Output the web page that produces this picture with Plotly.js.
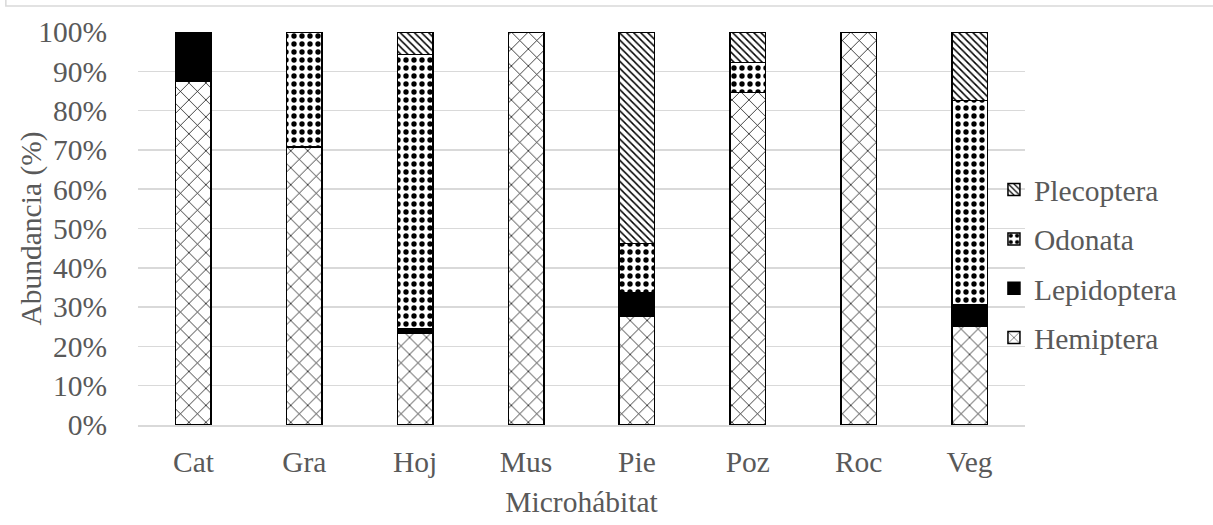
<!DOCTYPE html>
<html>
<head>
<meta charset="utf-8">
<script src="https://cdn.plot.ly/plotly-3.0.1.min.js"></script>
<style>
html,body{margin:0;padding:0;background:#fff;}
#chart{width:1213px;height:525px;}
</style>
</head>
<body>
<div id="chart"></div>
<script>
const categories = ["Cat", "Gra", "Hoj", "Mus", "Pie", "Poz", "Roc", "Veg"];
const hemiptera   = [87.5, 70.8, 23.3, 100, 27.7, 84.6, 100, 25.2];
const lepidoptera = [12.5, 0,    1.3,  0,   6.0,  0,    0,   5.3];
const odonata     = [0,    29.2, 69.7, 0,   12.5, 7.7,  0,   52.1];
const plecoptera  = [0,    0,    5.7,  0,   53.8, 7.7,  0,   17.4];
const tickVals = [0, 10, 20, 30, 40, 50, 60, 70, 80, 90, 100];
const tickText = ["0%", "10%", "20%", "30%", "40%", "50%", "60%", "70%", "80%", "90%", "100%"];

const font = {family: "Liberation Serif, Times New Roman, serif", size: 29.5, color: "#595959"};
const outline = {color: "#000", width: 1.5};

function trace(name, vals, rank, pattern, color) {
  return {
    type: "bar", name: name, x: categories, y: vals,
    legendgroup: name, legendrank: rank,
    marker: {color: color || "#fff", line: outline, pattern: pattern},
    hoverinfo: "x+y+name"
  };
}

const data = [
  trace("Hemiptera", hemiptera, 4, {shape: "x", fgcolor: "#000", bgcolor: "#fff", fgopacity: 1, size: 12, solidity: 0.12, fillmode: "overlay"}),
  trace("Lepidoptera", lepidoptera, 3, {shape: ""}, "#000"),
  trace("Odonata", odonata, 2, {shape: ".", fgcolor: "#000", bgcolor: "#fff", fgopacity: 1, size: 8, solidity: 0.35, fillmode: "overlay"}),
  trace("Plecoptera", plecoptera, 1, {shape: "\\", fgcolor: "#000", bgcolor: "#fff", fgopacity: 1, size: 5, solidity: 0.3, fillmode: "overlay"})
];

const layout = {
  width: 1213, height: 525,
  margin: {l: 138, r: 188, t: 32, b: 100},
  paper_bgcolor: "#fff", plot_bgcolor: "#fff",
  barmode: "stack", bargap: 0.68,
  font: font,
  xaxis: {
    type: "category", showgrid: false, zeroline: false,
    showline: true, linecolor: "#d9d9d9", linewidth: 1.5,
    ticks: "", tickfont: font, ticklabelstandoff: 10,
    title: {text: "Microhábitat", font: font, standoff: 14}
  },
  yaxis: {
    range: [0, 100], tickvals: tickVals, ticktext: tickText,
    showgrid: true, gridcolor: "#d9d9d9", gridwidth: 1.5,
    zeroline: false, showline: false, ticks: "",
    tickfont: font, ticklabelstandoff: 30
  },
  legend: {
    x: 0.965, xanchor: "left", y: 0.41, yanchor: "middle",
    traceorder: "grouped", tracegroupgap: 8,
    font: font, bgcolor: "rgba(0,0,0,0)", itemwidth: 30
  },
  showlegend: true,
  annotations: [{
    text: "Abundancia (%)", xref: "paper", yref: "paper",
    x: -0.1206, y: 0.5, xanchor: "center", yanchor: "middle",
    textangle: -90, showarrow: false, font: font
  }],
  shapes: [{
    type: "path", xref: "paper", yref: "paper",
    path: "M -0.149 1.2 L -0.149 1.066 L 1.3 1.066",
    line: {color: "#d9d9d9", width: 1.5}
  }]
};

Plotly.newPlot("chart", data, layout, {displayModeBar: false, staticPlot: true});
</script>
</body>
</html>
